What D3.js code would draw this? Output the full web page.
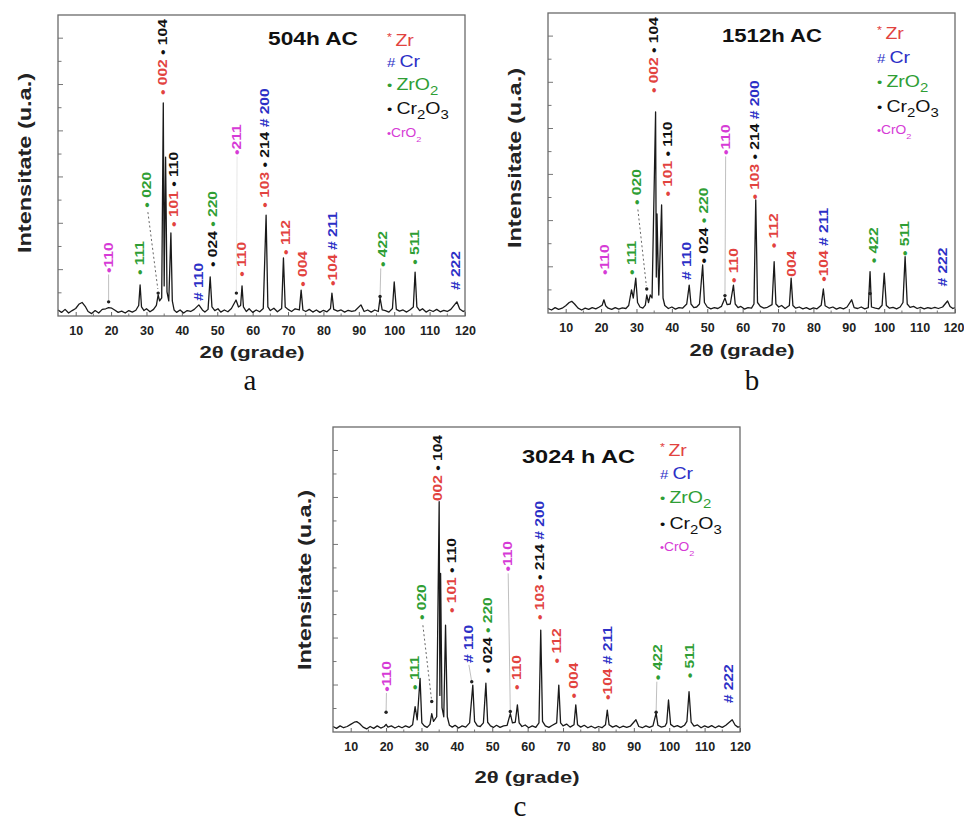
<!DOCTYPE html>
<html><head><meta charset="utf-8">
<script src="https://cdn.jsdelivr.net/npm/d3@7"></script>
<style>body{margin:0;background:#fff} svg{display:block} text{white-space:pre}</style>
</head><body>
<svg id="chart" width="964" height="825"></svg>
<script>
// ---------- data ----------
const xTickValues = [10,20,30,40,50,60,70,80,90,100,110,120];
const xMinorTicks = [15,25,35,45,55,65,75,85,95,105,115];
const yTickValues = [7.7,15.4,23.1,30.8,38.5,46.2,53.8,61.5,69.2,76.9,84.6,92.3];
const panelTitles = ["504h AC","1512h AC","3024 h AC"];
const panelLetters = ["a","b","c"];
const phaseNames = ["Zr","Cr","ZrO2","Cr2O3","CrO2"];
const phaseMarkers = ["*","#","•","•","•"];

// [2theta, intensity]
const traceA = [[5,2.0],[6,1.2],[7,2.2],[8,1.0],[9,1.8],[10,2.5],[11,4.0],[11.8,4.5],[12.8,3.0],[13.5,1.5],[14.5,0.8],[15.5,1.8],[16.5,1.0],[17.5,2.2],[18.5,2.4],[19.3,2.8],[20.2,2.6],[21,2.0],[22,1.2],[23,1.6],[24,1.0],[25,1.8],[26,1.3],[27,1.9],[27.8,3.5],[28.2,10.3],[28.6,3.0],[29.3,1.8],[30,2.4],[31,1.4],[32,2.2],[32.8,3.5],[33.3,7],[33.7,5],[34.3,6],[34.75,70.8],[35.0,10],[35.4,52.8],[35.8,8],[36.3,5],[36.9,27.6],[37.3,5],[37.8,2.0],[38.5,1.2],[39.5,2.0],[40.5,1.0],[41.5,1.8],[42.5,1.5],[43.5,2.2],[44.8,3.7],[45.8,2.0],[46.5,1.3],[47.4,2.2],[48,13],[48.5,3],[49.3,1.8],[50.2,2.4],[51,1.3],[52,2.0],[53,1.4],[54,2.5],[55.3,5.3],[56,3.0],[56.6,3.5],[57,10],[57.4,3],[58.2,1.5],[59,2.4],[60,1.2],[61,2.0],[62,1.4],[63,2.5],[63.8,33.5],[64.3,3],[65,1.8],[66,2.6],[67,1.4],[68.2,2.5],[68.7,19.3],[69.2,3],[70,2.2],[71,1.5],[72,2.4],[73.2,2.0],[73.7,8.6],[74.2,2],[75,1.5],[76,2.2],[77,1.3],[78,2.0],[79,1.2],[80,1.9],[81,1.4],[82,2.5],[82.4,7.6],[82.9,2.2],[84,1.6],[85,2.0],[86,1.3],[87,1.9],[88,1.5],[89,1.8],[90.6,3.7],[91.5,1.5],[92.5,2.0],[93.5,1.3],[94.5,2.0],[95.5,1.5],[96,6],[96.6,2],[97.5,1.8],[98.5,1.3],[99.5,2.5],[100,11.3],[100.6,2.2],[101.5,1.6],[102.5,2.0],[103.5,1.3],[104.5,2.1],[105.4,3],[105.9,14.6],[106.4,3],[107.2,1.8],[108,2.4],[109,1.3],[110,2.0],[111,1.5],[112,2.2],[113,1.4],[114,1.9],[115,1.5],[116,2.2],[117.7,4.7],[118.5,2.3],[119.5,1.5],[120,1.8]];

const traceB = [[5,1.5],[6,1.0],[7,1.8],[8,1.2],[9,1.6],[10,2.4],[11,3.5],[11.7,3.9],[12.5,3.0],[13.5,1.6],[14.5,1.0],[15.5,1.6],[16.5,1.2],[17.5,1.8],[18.5,1.4],[19.5,2.0],[20.3,2.6],[20.8,4.4],[21.3,2.4],[22,1.6],[23,1.2],[24,1.8],[25,1.3],[26,1.7],[27,1.5],[27.8,2.5],[28.6,7.7],[29.1,5.0],[29.8,11.6],[30.3,3.5],[31,2.0],[31.8,1.6],[32.5,2.6],[32.9,6],[33.4,3.5],[33.9,6],[34.4,5],[35.4,67],[35.6,12],[35.8,33],[36.3,6],[37.1,36],[37.5,5],[38,2.5],[39,1.5],[40,2.0],[41,1.3],[42,1.8],[43,1.6],[44.2,3.0],[44.9,9.3],[45.4,3.0],[46.2,1.8],[47,2.0],[47.8,3.0],[48.7,16],[49.2,3.5],[50,2.0],[51,1.4],[52,1.8],[53,1.5],[54,2.2],[55,5],[55.6,2.8],[56.5,3],[57.4,9.3],[57.9,3],[58.7,1.8],[59.5,2.2],[60.5,1.3],[61.5,1.8],[62.5,1.6],[63.2,3],[63.7,37.7],[64.2,3.5],[65,2.2],[66,1.6],[67,1.9],[68.3,2.8],[68.9,17.1],[69.4,3],[70.2,2.0],[71,2.5],[72,1.5],[73.2,2.5],[73.7,11.6],[74.2,2.5],[75,1.6],[76,2.0],[77,1.4],[78,1.8],[79,1.2],[80,1.7],[81,1.4],[82.2,2.6],[82.8,8],[83.3,2.4],[84.5,1.6],[85.5,2.0],[86.5,1.3],[87.5,1.8],[88.5,1.4],[89.5,2.0],[90.8,4.4],[91.5,1.8],[92.5,1.5],[93.5,2.0],[94.5,1.4],[95.5,1.8],[96,13.8],[96.4,2.0],[97.5,1.6],[98.5,1.4],[99.4,2.6],[100,13.3],[100.6,2.5],[101.5,1.6],[102.5,1.9],[103.5,1.4],[104.5,2.0],[105.3,3.5],[105.9,18.8],[106.5,3],[107.3,1.9],[108.3,2.2],[109.3,1.5],[110.3,1.9],[111.3,1.4],[112.3,1.8],[113.3,1.5],[114.3,1.9],[115.3,1.5],[116.5,2.0],[117.9,4],[118.6,2.2],[119.4,1.5],[120,1.8]];

const traceC = [[5,1.8],[6,1.2],[7,2.0],[8,1.4],[9,1.8],[10,2.5],[11,3.2],[11.7,3.4],[12.5,2.8],[13.5,1.6],[14.5,1.0],[15.5,1.8],[16.5,1.2],[17.5,2.0],[18.5,1.3],[19.5,1.8],[20,2.5],[20.5,1.6],[21.5,2.0],[22.5,1.3],[23.5,1.9],[24.5,1.4],[25.5,2.0],[26.5,1.5],[27.5,2.4],[28.2,8.3],[28.8,4.0],[29.6,17.6],[30.1,3.0],[30.8,2.0],[31.6,1.5],[32.4,2.5],[32.9,6],[33.4,3.5],[34.3,5],[35.0,75.5],[35.2,12],[35.4,52],[35.8,8],[36.3,5],[36.8,35],[37.3,5],[37.9,2.2],[38.7,1.6],[39.5,2.2],[40.5,1.3],[41.5,2.0],[42.5,1.6],[43.6,3],[44.5,15.4],[45.0,3.5],[45.8,2.0],[46.6,1.8],[47.5,3.0],[48.2,16],[48.7,3.2],[49.5,2.0],[50.3,1.5],[51.2,2.2],[52.2,1.5],[53.2,2.0],[54.2,2.2],[55.1,6],[55.7,3.0],[56.5,3.2],[57.1,8.9],[57.6,3.0],[58.4,1.8],[59.3,2.3],[60.3,1.4],[61.3,2.0],[62.3,1.5],[63.2,3],[63.7,33.4],[64.2,3.5],[65,2.0],[66,1.5],[67,2.2],[68.2,3],[68.8,15.4],[69.3,3],[70,2.0],[71,2.6],[72,1.6],[73.1,2.4],[73.6,8.9],[74.1,2.4],[75,1.6],[76,2.2],[77,1.4],[78,1.9],[79,1.3],[80,1.8],[81,1.4],[82,2.4],[82.5,7.2],[83,2.4],[84,1.6],[85,2.1],[86,1.4],[87,1.9],[88,1.5],[89,1.9],[90.6,4],[91.4,1.8],[92.4,1.4],[93.4,2.0],[94.4,1.5],[95.4,2.0],[96.3,6.2],[96.8,2.2],[97.8,1.6],[98.8,1.9],[99.3,3.0],[99.8,10.5],[100.4,2.5],[101.3,1.7],[102.3,2.1],[103.3,1.5],[104.3,2.2],[105.0,3.5],[105.6,13.2],[106.2,3.2],[107,1.9],[108,2.3],[109,1.4],[110,2.0],[111,1.5],[112,2.1],[113,1.4],[114,2.0],[115,1.5],[116,2.2],[117.8,4],[118.6,2.3],[119.4,1.6],[120,1.8]];

// peak annotations: [2theta, intensity at label start, [[phase, text], ...]]
const labelsA = [
  [19.3,14.3,[["CrO2","•110"]]],
  [28.2,13.6,[["ZrO2","• 111"]]],
  [30.1,36,[["ZrO2","• 020"]]],
  [34.7,73.4,[["Zr","• 002"],["Cr2O3"," • 104"]]],
  [37.6,29.6,[["Zr","• 101"],["Cr2O3"," • 110"]]],
  [44.8,5.0,[["Cr","# 110"]]],
  [48.8,16.3,[["Cr2O3","• 024"],["ZrO2"," • 220"]]],
  [57.0,13,[["Zr","• 110"]]],
  [55.6,53.5,[["CrO2","•211"]]],
  [63.5,36,[["Zr","• 103"],["Cr2O3"," • 214"],["Cr"," # 200"]]],
  [69.2,20.3,[["Zr","• 112"]]],
  [74.0,9.7,[["Zr","• 004"]]],
  [82.7,10,[["Zr","•104"],["Cr"," # 211"]]],
  [96.8,16.3,[["ZrO2","• 422"]]],
  [105.9,17,[["ZrO2","• 511"]]],
  [117.5,8.6,[["Cr","# 222"]]]
];
const labelsB = [
  [20.9,12.7,[["CrO2","•110"]]],
  [28.6,12.7,[["ZrO2","• 111"]]],
  [30.0,36,[["ZrO2","• 020"]]],
  [34.8,73.3,[["Zr","• 002"],["Cr2O3"," • 104"]]],
  [38.8,38.8,[["Zr","• 101"],["Cr2O3"," • 110"]]],
  [44.2,11,[["Cr","# 110"]]],
  [48.9,16.5,[["Cr2O3","• 024"],["ZrO2"," • 220"]]],
  [57.5,10,[["Zr","• 110"]]],
  [55.3,52.7,[["CrO2","•110"]]],
  [63.5,37.8,[["Zr","• 103"],["Cr2O3"," • 214"],["Cr"," # 200"]]],
  [68.9,21.6,[["Zr","• 112"]]],
  [73.8,12.1,[["Zr","004"]]],
  [82.8,10.4,[["Zr","•104"],["Cr"," # 211"]]],
  [96.9,16.6,[["ZrO2","• 422"]]],
  [105.9,19,[["ZrO2","• 511"]]],
  [116.6,8.8,[["Cr","# 222"]]]
];
const labelsC = [
  [20.2,13.2,[["CrO2","•110"]]],
  [28.2,13.8,[["ZrO2","• 111"]]],
  [30.1,36.7,[["ZrO2","• 020"]]],
  [34.6,75.7,[["Zr","002"],["Cr2O3"," • 104"]]],
  [38.5,39,[["Zr","• 101"],["Cr2O3"," • 110"]]],
  [43.2,22.6,[["Cr","# 110"]]],
  [48.6,19.3,[["Cr2O3","• 024"],["ZrO2"," • 220"]]],
  [56.9,13.8,[["Zr","• 110"]]],
  [54.3,52.6,[["CrO2","•110"]]],
  [63.5,36.7,[["Zr","• 103"],["Cr2O3"," • 214"],["Cr"," # 200"]]],
  [68.2,22.5,[["Zr","• 112"]]],
  [72.9,11,[["Zr","• 004"]]],
  [82.5,10.5,[["Zr","•104"],["Cr"," # 211"]]],
  [96.7,17,[["ZrO2","• 422"]]],
  [105.9,17.6,[["ZrO2","• 511"]]],
  [116.7,9.4,[["Cr","# 222"]]]
];
// leader lines: [x1, I1, x2, I2, kind]
const leadersA = [[19.3,4.7,19.3,13.8,"thin"],[30.4,34.5,33.2,9,"dash"],[55.4,7.5,55.6,53,"faint"],[96.0,6.5,96.2,15.8,"thin"]];
const leadersB = [[30.4,34.5,32.8,9,"dash"],[55.0,6,55.2,52.2,"thin"]];
const leadersC = [[20.0,6.5,20.1,12.8,"thin"],[30.4,35,32.8,11,"dash"],[44.2,16.5,43.4,22,"thin"],[55.1,6.7,54.5,52,"thin"],[96.3,6.5,96.5,16.5,"thin"]];
// peak marker dots: [x, I]
const dotsA = [[19.3,4.7],[33.3,7.6],[55.4,7.6],[96.0,6.5]];
const dotsB = [[32.9,8],[55.0,5.8],[96.0,6.5]];
const dotsC = [[20.0,6.5],[32.9,10],[44.2,16.5],[55.1,6.7],[96.3,6.5]];

// ---------- layout / style ----------
const colors = {Zr:"#e2433f", Cr:"#2c2fc6", ZrO2:"#2f9e35", Cr2O3:"#111111", CrO2:"#d63bd6"};
const FONT = "'Liberation Sans', Arial, Helvetica, sans-serif";
const layouts = [
  {fx:[58,465], fy:[316,15], title:[268,45,90], leg:[387,[40,61,84,108,133]], yt:[25,163], xt:[252,358], let:[250,390]},
  {fx:[548,955], fy:[313,13], title:[722,42,100], leg:[877,[33,57,81,106,130]], yt:[515,158], xt:[742,356], let:[752,390]},
  {fx:[333,740], fy:[732,427], title:[522,463,113], leg:[660,[450,473,497,523,547]], yt:[305,580], xt:[527,783], let:[520,816]}
];
const traces = [traceA, traceB, traceC];
const labelSets = [labelsA, labelsB, labelsC];
const leaderSets = [leadersA, leadersB, leadersC];
const dotSets = [dotsA, dotsB, dotsC];

const svg = d3.select("#chart");

layouts.forEach((L, i) => {
  const x = d3.scaleLinear().domain([5,120]).range(L.fx);
  const y = d3.scaleLinear().domain([0,100]).range(L.fy);
  const g = svg.append("g");

  // y ticks (inside, left)
  yTickValues.forEach((v, k) => {
    g.append("line").attr("x1", L.fx[0]).attr("x2", L.fx[0] + (k % 2 ? 5 : 3.5))
      .attr("y1", y(v)).attr("y2", y(v)).attr("stroke", "#777").attr("stroke-width", 1);
  });
  // x axis via d3
  const ax = d3.axisBottom(x).tickValues(xTickValues).tickSize(-4).tickPadding(8).tickFormat(d3.format("d"));
  const axg = g.append("g").attr("transform", `translate(0,${L.fy[0]})`).call(ax);
  axg.select(".domain").remove();
  axg.selectAll("line").attr("stroke", "#666");
  axg.selectAll("text").attr("fill", "#222").style("font", `bold 12.5px ${FONT}`)
     .attr("dy", "0.85em");
  if (i === 1) axg.selectAll("text").filter(d => d === 120).attr("text-anchor", "end").attr("x", 9);
  xMinorTicks.forEach(v => {
    g.append("line").attr("x1", x(v)).attr("x2", x(v)).attr("y1", L.fy[0]).attr("y2", L.fy[0]-2.5)
      .attr("stroke", "#777");
  });

  // leaders
  leaderSets[i].forEach(([x1, i1, x2, i2, kind]) => {
    g.append("line").attr("x1", x(x1)).attr("y1", y(i1)).attr("x2", x(x2)).attr("y2", y(i2))
      .attr("stroke", kind === "dash" ? "#555" : (kind === "faint" ? "#e4e4e4" : "#b8b8b8"))
      .attr("stroke-width", 0.9)
      .attr("stroke-dasharray", kind === "dash" ? "2,2.5" : null);
  });

  // trace
  g.append("path").datum(traces[i])
    .attr("d", d3.line().x(d => x(d[0])).y(d => y(d[1])))
    .attr("fill", "none").attr("stroke", "#1a1a1a").attr("stroke-width", 1.3).attr("stroke-linejoin", "round");

  // dots
  dotSets[i].forEach(([dx, di]) => {
    g.append("circle").attr("cx", x(dx)).attr("cy", y(di)).attr("r", 1.7).attr("fill", "#222");
  });

  // labels
  labelSets[i].forEach(([lx, ly, parts]) => {
    const t = g.append("text")
      .attr("transform", `translate(${x(lx)},${y(ly)}) rotate(-90) scale(1.3,1)`)
      .attr("dy", "0.36em")
      .style("font", `bold 12px ${FONT}`);
    parts.forEach(([ph, s]) => t.append("tspan").attr("fill", colors[ph]).text(s));
  });

  // frame
  g.append("rect").attr("x", L.fx[0]).attr("y", L.fy[1]).attr("width", L.fx[1]-L.fx[0])
    .attr("height", L.fy[0]-L.fy[1]).attr("fill", "none").attr("stroke", "#6a6a6a").attr("stroke-width", 1.3);

  // title
  g.append("text").attr("x", L.title[0]).attr("y", L.title[1]).attr("textLength", L.title[2])
    .attr("lengthAdjust", "spacingAndGlyphs").attr("fill", "#111")
    .style("font", `bold 18px ${FONT}`).text(panelTitles[i]);

  // legend
  phaseNames.forEach((ph, k) => {
    const small = ph === "CrO2";
    const t = g.append("text")
      .attr("transform", `translate(${L.leg[0]},${L.leg[1][k] + (small ? 4 : 6)}) scale(1.15,1)`)
      .attr("fill", colors[ph]).style("font", `${small ? "12px" : "17px"} ${FONT}`);
    const m = phaseMarkers[k];
    t.append("tspan").style("font-size", ph === "Zr" ? "11px" : (small ? "10px" : "13px"))
      .attr("dy", ph === "Zr" ? -5 : 0).text(m + (small ? "" : " "));
    const main = ph.match(/[A-Za-z]+|\d/g);
    let shifted = ph === "Zr" ? -5 : 0;
    main.forEach(tok => {
      if (/\d/.test(tok)) {
        t.append("tspan").attr("dy", 5 - shifted).style("font-size", small ? "8px" : "13px").text(tok);
        shifted = 5;
      } else {
        t.append("tspan").attr("dy", -shifted).text(tok);
        shifted = 0;
      }
    });
  });

  // y-axis title
  g.append("text").attr("transform", `translate(${L.yt[0]},${L.yt[1]}) rotate(-90)`)
    .attr("text-anchor", "middle").attr("dy", "0.36em").attr("textLength", 180)
    .attr("lengthAdjust", "spacingAndGlyphs").attr("fill", "#222")
    .style("font", `bold 18px ${FONT}`).text("Intensitate (u.a.)");

  // x-axis title
  g.append("text").attr("x", L.xt[0]).attr("y", L.xt[1]).attr("text-anchor", "middle")
    .attr("textLength", 105).attr("lengthAdjust", "spacingAndGlyphs").attr("fill", "#222")
    .style("font", `bold 16.5px ${FONT}`).text("2θ (grade)");

  // panel letter
  g.append("text").attr("x", L.let[0]).attr("y", L.let[1]).attr("text-anchor", "middle")
    .attr("fill", "#111").style("font", "29px 'Liberation Serif', 'Times New Roman', serif")
    .text(panelLetters[i]);
});
</script>
</body></html>
